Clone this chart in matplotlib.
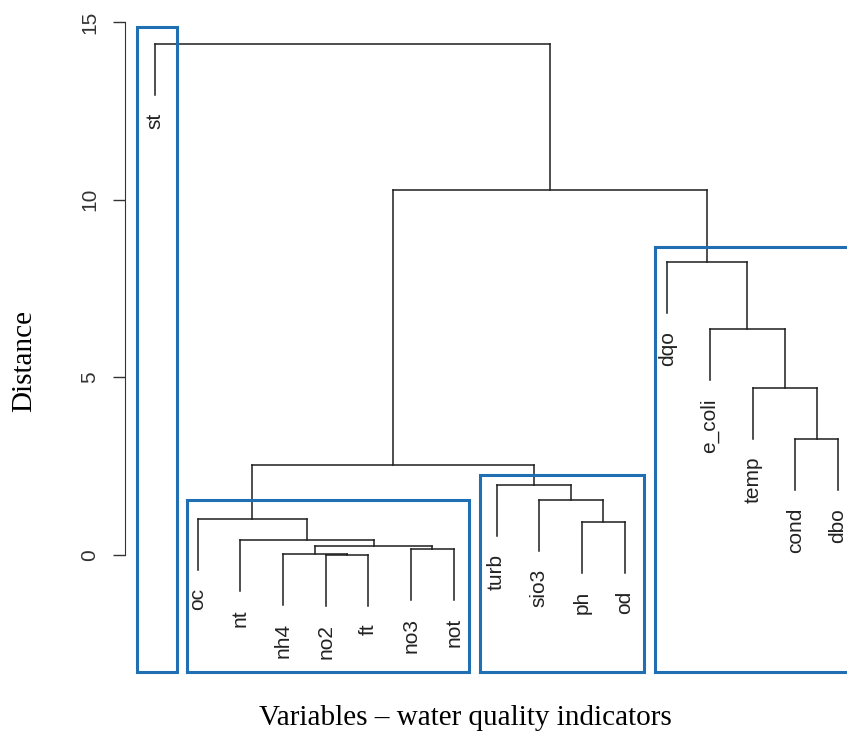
#!/usr/bin/env python3
"""
Dendrogram of water quality indicators (R hclust style) with highlighted clusters.
Writes out.png
"""

import matplotlib.pyplot as plt

# leaves in plotting order
labels = ["st", "oc", "nt", "nh4", "no2", "ft", "no3", "not", "turb",
          "sio3", "ph", "od", "dqo", "e_coli", "temp", "cond", "dbo"]

# R-style merge table: negative = leaf (1-based), positive = earlier merge
merge_a = [-5, -4, -7, 2, -3, -11, -2, -10, -9, 7, -16, -15, -14, -13, 10, -1]
merge_b = [-6, 1, -8, 3, 4, -12, 5, 6, 8, 9, -17, 11, 12, 13, 14, 15]
heights = [0.01, 0.03, 0.18, 0.24, 0.42, 0.93, 1.01, 1.55, 1.98, 2.52,
           3.27, 4.71, 6.35, 8.26, 10.27, 14.38]

# highlighted groups (hand drawn in the original): left, right, top
box_left = [0.58, 1.75, 8.61, 12.71]
box_right = [1.51, 8.36, 12.45, 17.4]
box_top = [14.85, 1.55, 2.25, 8.66]

LINE = "#1e1e1e"
BLUE = "#1f6fb2"

fig = plt.figure(figsize=(8.47, 7.34), dpi=100)
ax = fig.add_axes([0.1578, 0.0793, 0.8422, 0.9149])
ax.set_xlim(0.5, 17.21)
ax.set_ylim(-3.4, 15.5)

hang = 0.1 * max(heights)
pos = {}   # merge index -> (x, height)


def node_xy(ref):
    if ref < 0:
        return float(-ref), None
    return pos[ref]


for i, (a, b, h) in enumerate(zip(merge_a, merge_b, heights), start=1):
    xs = []
    for ref in (a, b):
        x, y = node_xy(ref)
        if y is None:
            y = h - hang
            ax.annotate(labels[-ref - 1], (x, y), xytext=(0, -13),
                        textcoords="offset points", rotation=90,
                        ha="center", va="top", fontsize=15,
                        family="Liberation Sans", color="#222222")
        ax.plot([x, x], [y, h], color=LINE, lw=1.1)
        xs.append(x)
    ax.plot(xs, [h, h], color=LINE, lw=1.1)
    pos[i] = (sum(xs) / 2, h)

# cluster boxes
for x0, x1, t in zip(box_left, box_right, box_top):
    y0 = -3.28
    ax.plot([x0, x1, x1, x0, x0], [y0, y0, t, t, y0], color=BLUE, lw=2.2,
            solid_joinstyle="miter")

# axes styling (R base graphics look)
for s in ("top", "right", "bottom"):
    ax.spines[s].set_visible(False)
ax.spines["left"].set_position(("outward", 6))
ax.spines["left"].set_bounds(0, 15)
ax.spines["left"].set_color("#333333")
ax.set_xticks([])
ax.set_yticks([0, 5, 10, 15])
ax.tick_params(axis="y", length=9, width=1.0, color="#333333", pad=10,
               labelsize=15, labelrotation=90)
for t in ax.get_yticklabels():
    t.set_family("Liberation Sans")
    t.set_va("center")
    t.set_color("#333333")

fig.text(0.029, 0.508, "Distance", rotation=90, ha="center", va="center",
         fontsize=21, family="Liberation Serif")
fig.text(0.549, 0.022, "Variables \u2013 water quality indicators",
         ha="center", va="center", fontsize=21, family="Liberation Serif")

fig.savefig("out.png", dpi=100)
